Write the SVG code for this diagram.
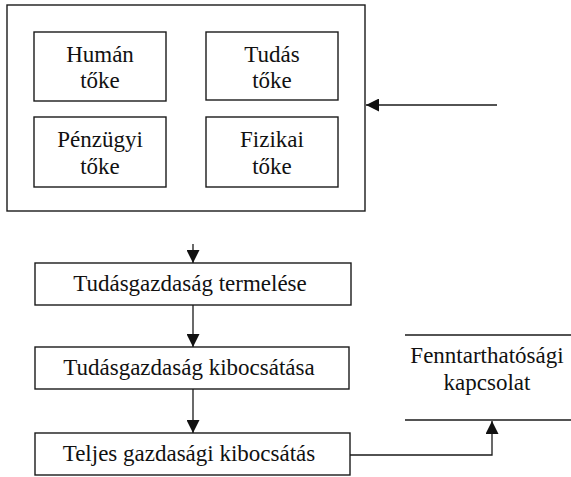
<svg xmlns="http://www.w3.org/2000/svg" width="571" height="477" viewBox="0 0 571 477" font-family="Liberation Serif, Times New Roman, serif">
<defs>
<style>
.box{fill:#fff;stroke:#1a1a1a;stroke-width:1.4}
.ln{fill:none;stroke:#1a1a1a;stroke-width:1.3}
text{font-family:"Liberation Serif","Times New Roman",serif;font-size:23px;fill:#111;text-anchor:middle}
</style>
<marker id="ah" viewBox="0 0 13 13" refX="13" refY="6.5" markerWidth="13" markerHeight="13" markerUnits="userSpaceOnUse" orient="auto">
<path d="M0,0 L13,6.5 L0,13 Z" fill="#111"/>
</marker>
</defs>
<rect width="571" height="477" fill="#fff"/>
<g id="capital-group">
<rect class="box" x="7" y="5" width="358" height="206"/>
</g>
<g id="human">
<rect class="box" x="34" y="32" width="132" height="69"/>
<text x="100" y="62">Humán</text>
<text x="100" y="88">tőke</text>
</g>
<g id="tudas">
<rect class="box" x="206" y="32" width="132" height="68"/>
<text x="272" y="62">Tudás</text>
<text x="272" y="88">tőke</text>
</g>
<g id="penzugyi">
<rect class="box" x="34" y="117" width="132" height="70"/>
<text x="100" y="147">Pénzügyi</text>
<text x="100" y="174">tőke</text>
</g>
<g id="fizikai">
<rect class="box" x="206" y="117" width="132" height="70"/>
<text x="272" y="147">Fizikai</text>
<text x="272" y="174">tőke</text>
</g>
<g id="termeles">
<rect class="box" x="35" y="263" width="316" height="42"/>
<text x="190" y="291">Tudásgazdaság termelése</text>
</g>
<g id="kibocsatas">
<rect class="box" x="35" y="347" width="314" height="42"/>
<text x="189" y="375">Tudásgazdaság kibocsátása</text>
</g>
<g id="teljes">
<rect class="box" x="35" y="433" width="315" height="42"/>
<text x="189" y="461">Teljes gazdasági kibocsátás</text>
</g>
<g id="fenntarthatosagi">
<line class="ln" x1="405" y1="335" x2="571" y2="335"/>
<line class="ln" x1="405" y1="420" x2="571" y2="420"/>
<text x="487" y="363">Fenntarthatósági</text>
<text x="487" y="390">kapcsolat</text>
</g>
<g id="connectors">
<line class="ln" x1="497" y1="105" x2="366" y2="105" marker-end="url(#ah)"/>
<line class="ln" x1="193" y1="244" x2="193" y2="263" marker-end="url(#ah)"/>
<line class="ln" x1="193" y1="305" x2="193" y2="347" marker-end="url(#ah)"/>
<line class="ln" x1="193" y1="389" x2="193" y2="433" marker-end="url(#ah)"/>
<path class="ln" d="M350,455 H492 V421" marker-end="url(#ah)"/>
</g>
</svg>
